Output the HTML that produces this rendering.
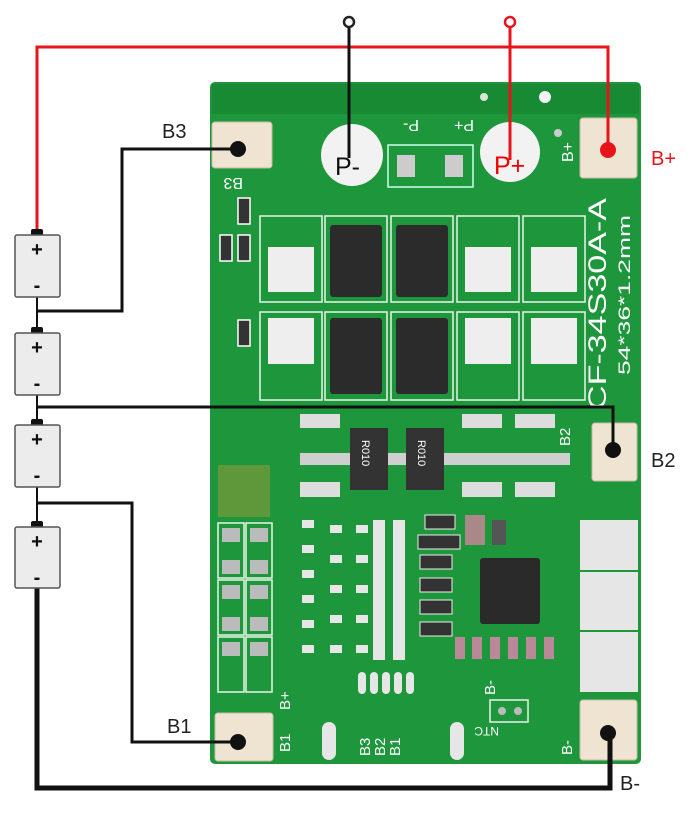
<!DOCTYPE html>
<html><head><meta charset="utf-8"><style>
html,body{margin:0;padding:0;background:#fff;}
svg{display:block;font-family:"Liberation Sans",sans-serif;}
</style></head><body>
<svg width="700" height="821" viewBox="0 0 700 821" xmlns="http://www.w3.org/2000/svg">
<rect width="700" height="821" fill="#fff"/>
<!-- board -->
<rect x="210" y="82" width="431" height="682" rx="5" fill="#1e963c"/>
<rect x="212" y="84" width="427" height="30" fill="#178a33"/>
<circle cx="484" cy="97" r="4" fill="#d8e8d8"/>
<circle cx="545" cy="97" r="6" fill="#f4f4f4"/>
<!-- P+ P- area -->
<circle cx="352" cy="155" r="31" fill="#f2f2f2"/>
<circle cx="510" cy="152" r="30" fill="#f2f2f2"/>
<text x="335" y="175" font-size="25" fill="#111">P-</text>
<text x="494" y="174" font-size="25" fill="#e00">P+</text>
<g fill="#fff" font-size="16">
<text x="405" y="130" transform="rotate(180 412 125)">P-</text>
<text x="458" y="130" transform="rotate(180 466 125)">P+</text>
<text x="565" y="170" transform="rotate(-90 565 162)">B+</text>
<text x="237" y="182" transform="rotate(180 240 180)">B3</text>
</g>
<rect x="388" y="145" width="85" height="42" fill="none" stroke="#cfe" stroke-width="1.5"/>
<rect x="397" y="155" width="18" height="22" fill="#ccc"/>
<rect x="445" y="155" width="18" height="22" fill="#ccc"/>
<circle cx="558" cy="133" r="4" fill="#ccc"/>
<!-- MOSFETs -->
<g stroke="#e8f5e8" stroke-width="1.5">
<rect x="260" y="216" width="62" height="86" fill="none"/>
<rect x="325" y="216" width="62" height="86" fill="none"/>
<rect x="391" y="216" width="62" height="86" fill="none"/>
<rect x="457" y="216" width="62" height="86" fill="none"/>
<rect x="523" y="216" width="62" height="86" fill="none"/>
<rect x="260" y="312" width="62" height="88" fill="none"/>
<rect x="325" y="312" width="62" height="88" fill="none"/>
<rect x="391" y="312" width="62" height="88" fill="none"/>
<rect x="457" y="312" width="62" height="88" fill="none"/>
<rect x="523" y="312" width="62" height="88" fill="none"/>
</g>
<g fill="#eee">
<rect x="268" y="247" width="46" height="45"/><rect x="465" y="247" width="46" height="45"/><rect x="531" y="247" width="46" height="45"/>
<rect x="268" y="318" width="46" height="46"/><rect x="465" y="318" width="46" height="46"/><rect x="531" y="318" width="46" height="46"/>
</g>
<g fill="#2b2b2b">
<rect x="330" y="225" width="52" height="72" rx="3"/><rect x="396" y="225" width="52" height="72" rx="3"/>
<rect x="330" y="318" width="52" height="76" rx="3"/><rect x="396" y="318" width="52" height="76" rx="3"/>
</g>
<text x="606" y="410" font-size="25" fill="#fff" textLength="212" lengthAdjust="spacingAndGlyphs" transform="rotate(-90 606 410)">CF-34S30A-A</text>
<text x="630" y="375" font-size="17" fill="#fff" textLength="160" lengthAdjust="spacingAndGlyphs" transform="rotate(-90 630 375)">54*36*1.2mm</text>
<!-- small parts left -->
<g fill="#333" stroke="#fff" stroke-width="1.5">
<rect x="238" y="198" width="12" height="26"/><rect x="220" y="235" width="12" height="26"/><rect x="238" y="235" width="12" height="26"/><rect x="238" y="320" width="12" height="26"/>
</g>
<!-- resistor area -->
<rect x="300" y="453" width="270" height="12" fill="#cfcfcf"/>
<rect x="350" y="428" width="38" height="62" fill="#333"/><rect x="406" y="428" width="38" height="62" fill="#333"/>
<text x="362" y="440" font-size="11" fill="#fff" transform="rotate(90 362 440)">R010</text>
<text x="418" y="440" font-size="11" fill="#fff" transform="rotate(90 418 440)">R010</text>
<g fill="#ddd">
<rect x="300" y="482" width="40" height="15"/><rect x="462" y="482" width="40" height="15"/><rect x="515" y="482" width="40" height="15"/>
<rect x="300" y="414" width="40" height="14"/><rect x="462" y="414" width="40" height="14"/><rect x="515" y="414" width="40" height="14"/>
</g>
<!-- left column components -->
<g fill="none" stroke="#e8f5e8" stroke-width="1.5">
<rect x="218" y="523" width="26" height="55"/><rect x="246" y="523" width="26" height="55"/>
<rect x="218" y="580" width="26" height="55"/><rect x="246" y="580" width="26" height="55"/>
<rect x="218" y="637" width="26" height="55"/><rect x="246" y="637" width="26" height="55"/>
</g>
<g fill="#bbb">
<rect x="222" y="528" width="18" height="14"/><rect x="250" y="528" width="18" height="14"/><rect x="222" y="560" width="18" height="14"/><rect x="250" y="560" width="18" height="14"/>
<rect x="222" y="585" width="18" height="14"/><rect x="250" y="585" width="18" height="14"/><rect x="222" y="617" width="18" height="14"/><rect x="250" y="617" width="18" height="14"/>
<rect x="222" y="642" width="18" height="14"/><rect x="250" y="642" width="18" height="14"/>
</g>
<rect x="218" y="465" width="52" height="52" fill="#8a9a3a" opacity="0.6"/>
<!-- pads in mid -->
<g fill="#e6e6e6">
<rect x="302" y="520" width="12" height="8"/><rect x="302" y="545" width="12" height="8"/><rect x="302" y="570" width="12" height="8"/><rect x="302" y="595" width="12" height="8"/><rect x="302" y="620" width="12" height="8"/><rect x="302" y="645" width="12" height="8"/>
<rect x="330" y="525" width="12" height="8"/><rect x="330" y="555" width="12" height="8"/><rect x="330" y="585" width="12" height="8"/><rect x="330" y="615" width="12" height="8"/><rect x="330" y="645" width="12" height="8"/>
<rect x="356" y="525" width="12" height="8"/><rect x="356" y="555" width="12" height="8"/><rect x="356" y="585" width="12" height="8"/><rect x="356" y="615" width="12" height="8"/><rect x="356" y="645" width="12" height="8"/>
<rect x="373" y="520" width="12" height="140"/><rect x="393" y="520" width="12" height="140"/>
<rect x="580" y="520" width="58" height="50"/><rect x="580" y="572" width="58" height="58"/><rect x="580" y="632" width="58" height="60"/>
<rect x="358" y="672" width="8" height="22" rx="4"/><rect x="370" y="672" width="8" height="22" rx="4"/><rect x="382" y="672" width="8" height="22" rx="4"/><rect x="394" y="672" width="8" height="22" rx="4"/><rect x="406" y="672" width="8" height="22" rx="4"/>
<rect x="322" y="722" width="14" height="38" rx="7"/><rect x="450" y="722" width="14" height="38" rx="7"/>
</g>
<g fill="#333" stroke="#eee" stroke-width="1">
<rect x="425" y="515" width="30" height="14"/><rect x="418" y="535" width="42" height="14"/><rect x="420" y="555" width="32" height="14"/><rect x="420" y="578" width="32" height="14"/><rect x="420" y="600" width="32" height="14"/><rect x="420" y="622" width="32" height="14"/>
</g>
<rect x="465" y="515" width="20" height="30" fill="#a88"/><rect x="492" y="520" width="14" height="25" fill="#555"/>
<rect x="480" y="558" width="60" height="66" rx="3" fill="#2a2a2a"/>
<g fill="#b89">
<rect x="455" y="637" width="10" height="22"/><rect x="472" y="637" width="10" height="22"/><rect x="490" y="637" width="10" height="22"/><rect x="508" y="637" width="10" height="22"/><rect x="526" y="637" width="10" height="22"/><rect x="544" y="637" width="10" height="22"/>
</g>
<rect x="490" y="700" width="38" height="22" fill="none" stroke="#eee" stroke-width="1.5"/>
<circle cx="502" cy="711" r="4" fill="#bbb"/><circle cx="518" cy="711" r="4" fill="#bbb"/>
<g fill="#fff" font-size="15">
<text x="290" y="710" transform="rotate(-90 290 710)">B+</text>
<text x="370" y="756" transform="rotate(-90 370 756)">B3</text>
<text x="385" y="756" transform="rotate(-90 385 756)">B2</text>
<text x="400" y="756" transform="rotate(-90 400 756)">B1</text>
<text x="290" y="752" transform="rotate(-90 290 752)">B1</text>
<text x="570" y="446" transform="rotate(-90 570 446)">B2</text>
<text x="572" y="755" transform="rotate(-90 572 755)">B-</text>
<text x="495" y="695" transform="rotate(-90 495 695)">B-</text>
<text x="525" y="735" font-size="12" transform="rotate(180 512 731)">NTC</text>
</g>
<!-- solder pads -->
<g fill="#efe4d2" stroke="#c9bda8" stroke-width="1">
<rect x="212" y="122" width="60" height="46" rx="3"/>
<rect x="580" y="118" width="57" height="60" rx="3"/>
<rect x="592" y="423" width="45" height="58" rx="3"/>
<rect x="215" y="713" width="58" height="48" rx="3"/>
<rect x="580" y="700" width="57" height="60" rx="3"/>
</g>
<!-- wires -->
<g fill="none" stroke-linejoin="miter">
<polyline points="37,231 37,47 608,47 608,150" stroke="#e8141c" stroke-width="3"/>
<line x1="510" y1="28" x2="510" y2="160" stroke="#e8141c" stroke-width="3"/>
<line x1="349" y1="28" x2="349" y2="158" stroke="#111" stroke-width="3"/>
<polyline points="37,297 37,333" stroke="#111" stroke-width="2"/>
<polyline points="37,395 37,425" stroke="#111" stroke-width="2"/>
<polyline points="37,487 37,527" stroke="#111" stroke-width="2"/>
<polyline points="37,311 122,311 122,149 238,149" stroke="#111" stroke-width="3"/>
<polyline points="37,407 613,407 613,450" stroke="#111" stroke-width="3"/>
<polyline points="37,503 132,503 132,742 238,742" stroke="#111" stroke-width="3"/>
<polyline points="37,588 37,788 610,788 610,735" stroke="#111" stroke-width="5"/>
</g>
<circle cx="349" cy="22" r="5" fill="#fff" stroke="#222" stroke-width="2.5"/>
<circle cx="510" cy="22" r="5" fill="#fff" stroke="#e8141c" stroke-width="2.5"/>
<g fill="#111"><circle cx="238" cy="149" r="8"/><circle cx="613" cy="450" r="8"/><circle cx="238" cy="742" r="8"/><circle cx="608" cy="733" r="8"/></g>
<circle cx="608" cy="150" r="8" fill="#e8141c"/>
<!-- batteries -->
<g>
<rect x="31" y="229" width="12" height="7" rx="2" fill="#111"/>
<rect x="15" y="235" width="45" height="62" rx="2" fill="#ececec" stroke="#555" stroke-width="1.5"/>
<rect x="31" y="327" width="12" height="7" rx="2" fill="#111"/>
<rect x="15" y="333" width="45" height="62" rx="2" fill="#ececec" stroke="#555" stroke-width="1.5"/>
<rect x="31" y="419" width="12" height="7" rx="2" fill="#111"/>
<rect x="15" y="425" width="45" height="62" rx="2" fill="#ececec" stroke="#555" stroke-width="1.5"/>
<rect x="31" y="521" width="12" height="7" rx="2" fill="#111"/>
<rect x="15" y="527" width="45" height="61" rx="2" fill="#ececec" stroke="#555" stroke-width="1.5"/>
</g>
<g font-size="20" font-weight="bold" fill="#111" text-anchor="middle">
<text x="37" y="256">+</text><text x="37" y="292">-</text>
<text x="37" y="354">+</text><text x="37" y="390">-</text>
<text x="37" y="446">+</text><text x="37" y="482">-</text>
<text x="37" y="548">+</text><text x="37" y="584">-</text>
</g>
<g font-size="20" fill="#222">
<text x="162" y="138">B3</text>
<text x="651" y="467">B2</text>
<text x="167" y="733">B1</text>
<text x="620" y="790">B-</text>
</g>
<text x="651" y="165" font-size="20" fill="#e8141c">B+</text>
</svg>
</body></html>
